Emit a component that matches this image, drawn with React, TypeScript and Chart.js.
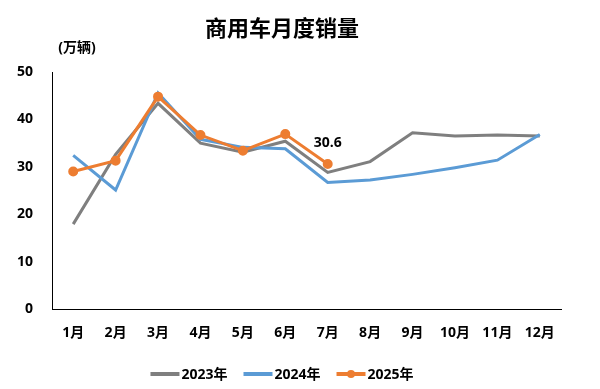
import React, { useEffect, useRef } from "react";
import { Chart, registerables } from "chart.js";

Chart.register(...registerables);

const months = ["1月", "2月", "3月", "4月", "5月", "6月", "7月", "8月", "9月", "10月", "11月", "12月"];
const sales2023 = [17.9, 32.6, 43.4, 35.0, 33.1, 35.4, 28.8, 31.1, 37.2, 36.5, 36.7, 36.5];
const sales2024 = [32.4, 25.1, 45.6, 35.8, 34.1, 33.8, 26.7, 27.2, 28.4, 29.8, 31.4, 36.8];
const sales2025 = [29.0, 31.3, 44.8, 36.7, 33.4, 36.9, 30.6, null, null, null, null, null];
const seriesLabels = ["2023年", "2024年", "2025年"];
const yTicks = [0, 10, 20, 30, 40, 50];
const titleText = "商用车月度销量";
const unitText = "(万辆)";

const FONT = '"Open Sans", "Noto Sans CJK SC", sans-serif';
const GRAY = "#7f7f7f";
const BLUE = "#5b9bd5";
const ORANGE = "#ed7d31";

const decorPlugin = {
  id: "decor",
  afterDraw(chart: any) {
    const ctx = chart.ctx;
    ctx.save();
    ctx.fillStyle = "#000";
    ctx.textBaseline = "middle";
    // title
    ctx.font = `bold 22px ${FONT}`;
    ctx.textAlign = "center";
    ctx.fillText(titleText, 282, 30);
    // unit
    ctx.font = `bold 14px ${FONT}`;
    ctx.fillText(unitText, 77, 48);

    // data label for last 2025 point
    const ds = chart.data.datasets[2];
    const meta = chart.getDatasetMeta(2);
    let last = -1;
    ds.data.forEach((v: any, i: number) => {
      if (v !== null && v !== undefined) last = i;
    });
    if (last >= 0) {
      const pt = meta.data[last];
      ctx.font = `bold 14px ${FONT}`;
      ctx.textAlign = "center";
      ctx.fillText(String(ds.data[last].toFixed(1)), pt.x, pt.y - 21);
    }

    // legend
    ctx.font = `bold 14px ${FONT}`;
    ctx.textAlign = "left";
    const lineW = 29;
    const gap = 2;
    const itemGap = 16;
    const widths = chart.data.datasets.map((d: any) => lineW + gap + ctx.measureText(d.label).width);
    const total = widths.reduce((a: number, b: number) => a + b, 0) + itemGap * (widths.length - 1);
    let x = 282 - total / 2;
    const y = 374;
    chart.data.datasets.forEach((d: any, i: number) => {
      ctx.strokeStyle = d.borderColor;
      ctx.lineWidth = 4;
      ctx.beginPath();
      ctx.moveTo(x, y);
      ctx.lineTo(x + lineW, y);
      ctx.stroke();
      if (d.pointRadius > 0) {
        ctx.fillStyle = d.pointBackgroundColor;
        ctx.beginPath();
        ctx.arc(x + lineW / 2, y, 4, 0, Math.PI * 2);
        ctx.fill();
      }
      ctx.fillStyle = "#000";
      ctx.fillText(d.label, x + lineW + gap, y + 1);
      x += widths[i] + itemGap;
    });
    ctx.restore();
  },
};

export default function App() {
  const ref = useRef<HTMLCanvasElement | null>(null);

  useEffect(() => {
    if (!ref.current) return;
    const chart = new Chart(ref.current, {
      type: "line",
      data: {
        labels: months,
        datasets: [
          {
            label: seriesLabels[0],
            data: sales2023,
            borderColor: GRAY,
            backgroundColor: GRAY,
            borderWidth: 3,
            pointRadius: 0,
            pointHoverRadius: 0,
            tension: 0,
            order: 3,
          },
          {
            label: seriesLabels[1],
            data: sales2024,
            borderColor: BLUE,
            backgroundColor: BLUE,
            borderWidth: 3,
            pointRadius: 0,
            pointHoverRadius: 0,
            tension: 0,
            order: 2,
          },
          {
            label: seriesLabels[2],
            data: sales2025,
            borderColor: ORANGE,
            backgroundColor: ORANGE,
            pointBackgroundColor: ORANGE,
            pointBorderColor: ORANGE,
            borderWidth: 3,
            pointRadius: 3.5,
            pointHoverRadius: 3.5,
            tension: 0,
            spanGaps: false,
            order: 1,
          },
        ] as any,
      },
      options: {
        responsive: false,
        animation: false,
        layout: { padding: { left: 0, right: 39, top: 72, bottom: 0 } },
        plugins: {
          legend: { display: false },
          title: { display: false },
          tooltip: { enabled: false },
        },
        scales: {
          x: {
            offset: true,
            grid: { display: false, drawTicks: false },
            border: { display: true, color: "#000", width: 1 },
            ticks: {
              color: "#000",
              font: { family: FONT, size: 14, weight: "bold" },
              padding: 16,
              maxRotation: 0,
              autoSkip: false,
            },
            afterFit(scale: any) {
              scale.height = 80;
            },
          },
          y: {
            min: 0,
            max: 50,
            afterBuildTicks(scale: any) {
              scale.ticks = yTicks.map((v) => ({ value: v }));
            },
            grid: { display: false, drawTicks: false },
            border: { display: true, color: "#000", width: 1 },
            ticks: {
              color: "#000",
              font: { family: FONT, size: 14, weight: "bold" },
              padding: 19,
            },
            afterFit(scale: any) {
              scale.width = 52;
            },
          },
        },
      } as any,
      plugins: [decorPlugin],
    });
    return () => chart.destroy();
  }, []);

  return (
    <div style={{ position: "fixed", left: 0, top: 0, width: 600, height: 389, background: "#fff" }}>
      <canvas ref={ref} width={600} height={389} style={{ width: 600, height: 389 }} />
    </div>
  );
}
